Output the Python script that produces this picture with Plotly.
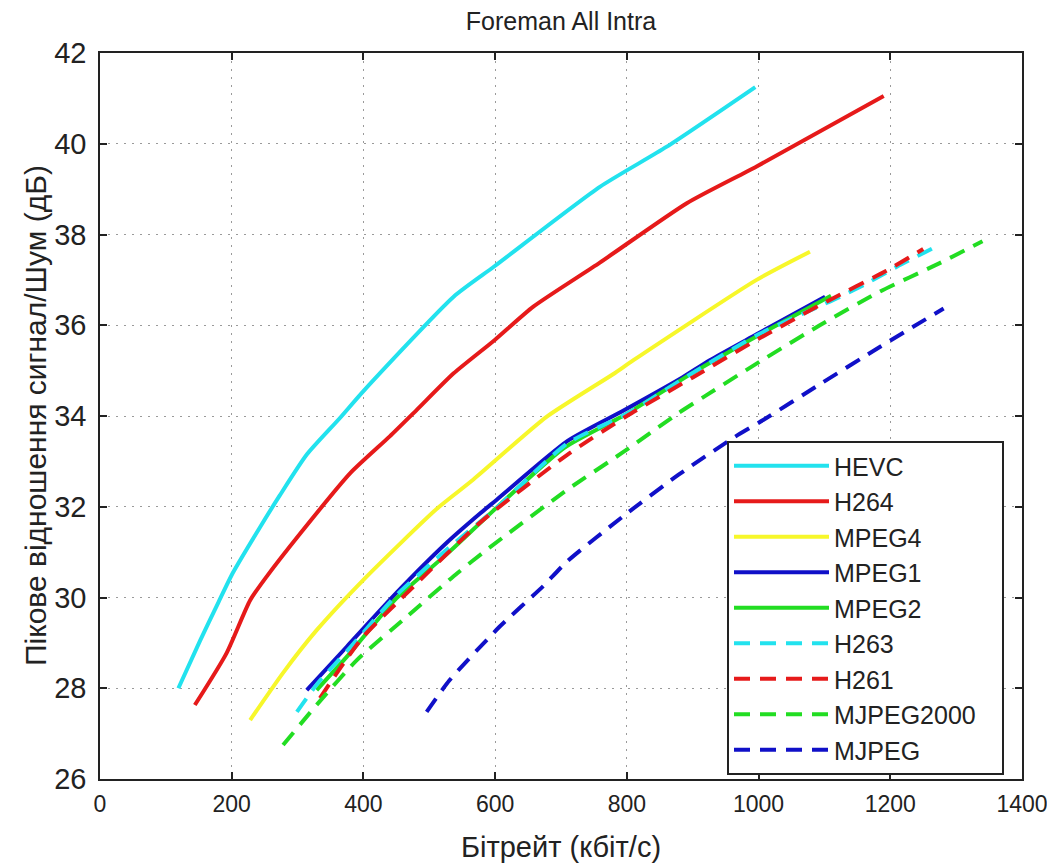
import plotly.graph_objects as go

# ---- data (bitrate kbit/s, PSNR dB) ----
hevc_x = [119, 152, 180, 202, 243, 273, 314, 364, 400, 537, 599, 759, 860, 995]
hevc_y = [28.0, 29.05, 29.9, 30.55, 31.55, 32.25, 33.15, 33.95, 34.55, 36.63, 37.3, 39.05, 39.93, 41.25]

h264_x = [144, 192, 228, 253, 304, 380, 440, 480, 537, 599, 658, 759, 891, 997, 1190]
h264_y = [27.63, 28.77, 29.94, 30.46, 31.41, 32.74, 33.55, 34.12, 34.94, 35.67, 36.41, 37.38, 38.69, 39.5, 41.05]

mpeg4_x = [228, 278, 329, 400, 511, 567, 678, 779, 810, 997, 1078]
mpeg4_y = [27.3, 28.34, 29.28, 30.39, 31.95, 32.6, 33.98, 34.92, 35.23, 37.0, 37.62]

mpeg1_x = [314, 375, 450, 526, 577, 602, 710, 795, 881, 926, 997, 1101]
mpeg1_y = [27.96, 28.92, 30.1, 31.2, 31.85, 32.15, 33.45, 34.12, 34.82, 35.23, 35.8, 36.63]

mpeg2_x = [329, 380, 450, 530, 600, 705, 800, 900, 1000, 1110]
mpeg2_y = [27.96, 28.78, 29.98, 31.0, 31.95, 33.3, 34.05, 34.95, 35.78, 36.65]

h263_x = [299, 330, 380, 450, 530, 600, 710, 800, 900, 1000, 1124, 1164, 1210, 1265]
h263_y = [27.48, 28.1, 28.9, 30.05, 31.1, 31.95, 33.4, 34.05, 34.95, 35.8, 36.63, 36.92, 37.29, 37.7]

h261_x = [334, 365, 400, 476, 577, 710, 800, 900, 1000, 1103, 1194, 1250]
h261_y = [27.78, 28.45, 29.14, 30.24, 31.65, 33.15, 34.0, 34.85, 35.7, 36.52, 37.2, 37.68]

mjpeg2000_x = [278, 330, 390, 466, 542, 587, 709, 792, 878, 921, 1002, 1093, 1184, 1275, 1340]
mjpeg2000_y = [26.75, 27.65, 28.62, 29.58, 30.53, 31.05, 32.37, 33.18, 34.06, 34.46, 35.2, 36.0, 36.74, 37.37, 37.85]

mjpeg_x = [496, 531, 607, 673, 709, 797, 878, 964, 1007, 1093, 1184, 1281]
mjpeg_y = [27.48, 28.18, 29.36, 30.25, 30.79, 31.82, 32.7, 33.54, 33.91, 34.7, 35.52, 36.37]

x_ticks = [0, 200, 400, 600, 800, 1000, 1200, 1400]
y_ticks = [26, 28, 30, 32, 34, 36, 38, 40, 42]

CYAN = "#22E2EE"
RED = "#E61A1A"
YELLOW = "#F7F72A"
BLUE = "#1010C8"
GREEN = "#22DD22"

NBSP = "\u00a0"
series = [
    ("HEVC", hevc_x, hevc_y, CYAN, "solid"),
    ("H264", h264_x, h264_y, RED, "solid"),
    ("MPEG4", mpeg4_x, mpeg4_y, YELLOW, "solid"),
    ("MPEG1", mpeg1_x, mpeg1_y, BLUE, "solid"),
    ("MPEG2", mpeg2_x, mpeg2_y, GREEN, "solid"),
    ("H263", h263_x, h263_y, CYAN, "16px,10px"),
    ("H261", h261_x, h261_y, RED, "16px,10px"),
    ("MJPEG2000", mjpeg2000_x, mjpeg2000_y, GREEN, "16px,10px"),
    ("MJPEG", mjpeg_x, mjpeg_y, BLUE, "16px,10px"),
]

FONT = "Arial, Liberation Sans, sans-serif"

# the page body has an 8px default margin, so the figure sits 8px right/down
OFF = 8
L, R, T, B = 100 - OFF, 1055 - 1022 + OFF, 53 - OFF, 866 - 779 + OFF
PW = 1055 - L - R
PH = 866 - T - B

fig = go.Figure()
for name, xs, ys, col, dash in series:
    label = name + NBSP * 3 if name == "MJPEG2000" else name
    fig.add_trace(go.Scatter(x=xs, y=ys, mode="lines", name=label,
                             line=dict(color=col, width=4, dash=dash,
                                       shape="spline", smoothing=0.6)))

axis_common = dict(
    showline=True, linecolor="#222", linewidth=1.5, mirror="ticks",
    ticks="inside", ticklen=7, tickcolor="#222", tickwidth=1.5,
    showgrid=True, gridcolor="#9a9a9a", gridwidth=1, griddash="2px,6px",
    zeroline=False, automargin=False,
)

fig.update_layout(
    width=1055, height=866,
    paper_bgcolor="white", plot_bgcolor="white",
    margin=dict(l=L, r=R, t=T, b=B),
    font=dict(family=FONT, color="#222"),
    title=dict(text="Foreman All Intra", x=0.5, xref="paper", y=1 - (21 - OFF) / 866,
               yanchor="middle", automargin=False,
               font=dict(size=25, family=FONT, color="#222")),
    xaxis=dict(range=[0, 1400], tickvals=x_ticks, ticktext=[str(v) for v in x_ticks],
               tickfont=dict(size=23), ticklabelstandoff=4,
               title=dict(text="Бітрейт (кбіт/с)", font=dict(size=29), standoff=20),
               **axis_common),
    yaxis=dict(range=[26, 42], tickvals=y_ticks, ticktext=[str(v) for v in y_ticks],
               tickfont=dict(size=29), ticklabelstandoff=6,
               **axis_common),
    annotations=[dict(text="Пікове відношення сигнал/Шум (дБ)", textangle=-90,
                      xref="paper", yref="paper", x=(35 - 100) / PW, y=0.5,
                      xanchor="center", yanchor="middle", showarrow=False,
                      font=dict(size=30, family=FONT, color="#222"))],
    legend=dict(x=(727 - 100) / PW, y=(779 - 441) / PH, xanchor="left", yanchor="top",
                bgcolor="white", bordercolor="#222", borderwidth=2,
                font=dict(size=25, family=FONT, color="#222"), itemwidth=95,
                tracegroupgap=0),
    showlegend=True,
)

fig.write_html("out.html")
